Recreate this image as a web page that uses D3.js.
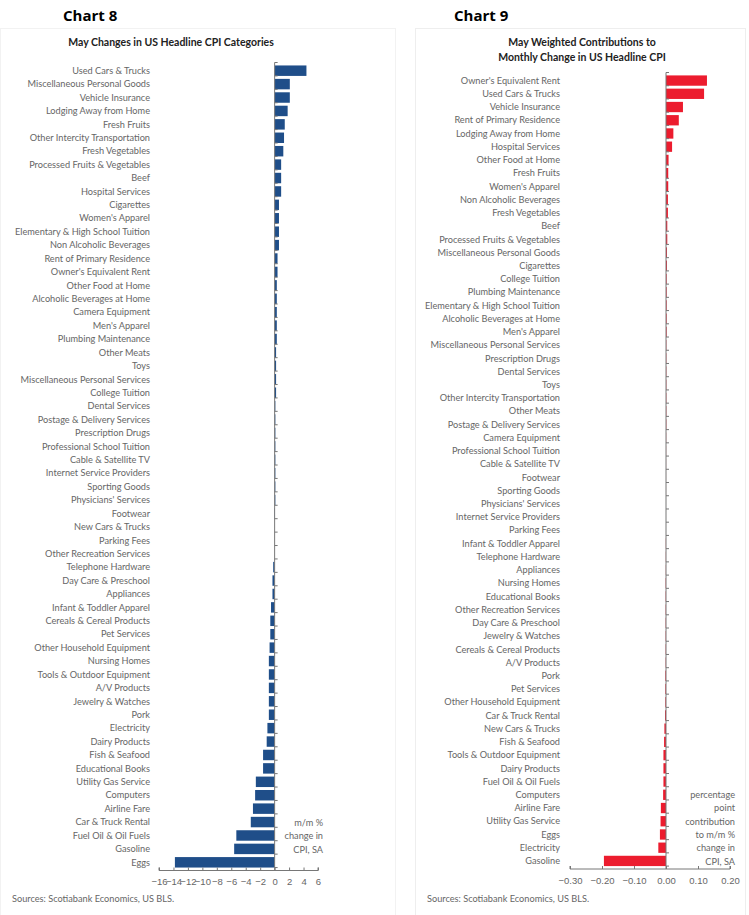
<!DOCTYPE html>
<html><head><meta charset="utf-8">
<script src="https://cdn.jsdelivr.net/npm/d3@7"></script>
<style>
body{margin:0;background:#fff;font-family:Lato,"Open Sans",sans-serif;}
.lbl{fill:#666;font-size:9.2px;}
.tick text{fill:#666;font-size:9.5px;}
</style></head><body>
<div id="chart"></div>
<script>
// Chart 8: m/m % change
const cats8 = ["Used Cars & Trucks","Miscellaneous Personal Goods","Vehicle Insurance","Lodging Away from Home","Fresh Fruits","Other Intercity Transportation","Fresh Vegetables","Processed Fruits & Vegetables","Beef","Hospital Services","Cigarettes","Women's Apparel","Elementary & High School Tuition","Non Alcoholic Beverages","Rent of Primary Residence","Owner's Equivalent Rent","Other Food at Home","Alcoholic Beverages at Home","Camera Equipment","Men's Apparel","Plumbing Maintenance","Other Meats","Toys","Miscellaneous Personal Services","College Tuition","Dental Services","Postage & Delivery Services","Prescription Drugs","Professional School Tuition","Cable & Satellite TV","Internet Service Providers","Sporting Goods","Physicians' Services","Footwear","New Cars & Trucks","Parking Fees","Other Recreation Services","Telephone Hardware","Day Care & Preschool","Appliances","Infant & Toddler Apparel","Cereals & Cereal Products","Pet Services","Other Household Equipment","Nursing Homes","Tools & Outdoor Equipment","A/V Products","Jewelry & Watches","Pork","Electricity","Dairy Products","Fish & Seafood","Educational Books","Utility Gas Service","Computers","Airline Fare","Car & Truck Rental","Fuel Oil & Oil Fuels","Gasoline","Eggs"];
const vals8 = [4.4,2.1,2.1,1.8,1.4,1.3,1.2,0.9,0.9,0.9,0.6,0.6,0.6,0.6,0.4,0.4,0.3,0.3,0.3,0.3,0.3,0.2,0.2,0.2,0.2,0.1,0.1,0.1,0.1,0.1,0.1,0.1,0.1,0.05,0,0,0,-0.2,-0.3,-0.3,-0.5,-0.6,-0.6,-0.7,-0.8,-0.8,-0.8,-0.8,-0.8,-1.0,-1.1,-1.6,-1.6,-2.6,-2.7,-3.0,-3.3,-5.3,-5.6,-13.8];
const ticks8 = [-16,-14,-12,-10,-8,-6,-4,-2,0,2,4,6];

// Chart 9: percentage point contribution
const cats9 = ["Owner's Equivalent Rent","Used Cars & Trucks","Vehicle Insurance","Rent of Primary Residence","Lodging Away from Home","Hospital Services","Other Food at Home","Fresh Fruits","Women's Apparel","Non Alcoholic Beverages","Fresh Vegetables","Beef","Processed Fruits & Vegetables","Miscellaneous Personal Goods","Cigarettes","College Tuition","Plumbing Maintenance","Elementary & High School Tuition","Alcoholic Beverages at Home","Men's Apparel","Miscellaneous Personal Services","Prescription Drugs","Dental Services","Toys","Other Intercity Transportation","Other Meats","Postage & Delivery Services","Camera Equipment","Professional School Tuition","Cable & Satellite TV","Footwear","Sporting Goods","Physicians' Services","Internet Service Providers","Parking Fees","Infant & Toddler Apparel","Telephone Hardware","Appliances","Nursing Homes","Educational Books","Other Recreation Services","Day Care & Preschool","Jewelry & Watches","Cereals & Cereal Products","A/V Products","Pork","Pet Services","Other Household Equipment","Car & Truck Rental","New Cars & Trucks","Fish & Seafood","Tools & Outdoor Equipment","Dairy Products","Fuel Oil & Oil Fuels","Computers","Airline Fare","Utility Gas Service","Eggs","Electricity","Gasoline"];
const vals9 = [0.128,0.119,0.053,0.04,0.023,0.019,0.008,0.007,0.007,0.006,0.006,0.004,0.004,0.003,0.003,0.002,0.002,0.002,0.002,0.002,0.001,0.001,0.001,0.001,0.001,0.001,0.001,0.0005,0.0003,0.0002,0.0001,0.0001,0,0,0,-0.0005,-0.0005,-0.0005,-0.001,-0.001,-0.001,-0.001,-0.001,-0.001,-0.001,-0.002,-0.002,-0.002,-0.003,-0.005,-0.006,-0.008,-0.008,-0.008,-0.009,-0.016,-0.017,-0.019,-0.024,-0.194];
const ticks9 = [-0.3,-0.2,-0.1,0,0.1,0.2];

const svg = d3.select("#chart").append("svg").attr("width",749).attr("height",915);

// faint panel borders
svg.append("rect").attr("x",415.5).attr("y",28.5).attr("width",330).attr("height",890)
  .attr("fill","none").attr("stroke","#eee");
svg.append("rect").attr("x",0.5).attr("y",28.5).attr("width",395).attr("height",890)
  .attr("fill","none").attr("stroke","#f2f2f2");

function drawChart(o) {
  const g = svg.append("g");
  g.append("text").attr("x",o.headX).attr("y",21).text(o.head)
    .style("font-family","'Open Sans',sans-serif").style("font-weight","700").style("font-size","15px").attr("fill","#000");
  o.title.forEach((t,i) => g.append("text").attr("x",o.titleX).attr("y",o.titleY+i*15).attr("text-anchor","middle")
    .text(t).style("font-weight","700").style("font-size","10.5px").attr("fill","#222"));

  const x = d3.scaleLinear().domain(o.domain).range(o.xr);
  const y = d3.scaleBand().domain(o.cats).range(o.yr).padding(0.22);
  const step = y.step();

  g.selectAll("rect.bar").data(o.cats).join("rect").attr("class","bar")
    .attr("x",(d,i)=>x(Math.min(0,o.vals[i])))
    .attr("width",(d,i)=>Math.abs(x(o.vals[i])-x(0)))
    .attr("y",d=>y(d)).attr("height",y.bandwidth()).attr("fill",o.color);

  g.selectAll("text.lbl").data(o.cats).join("text").attr("class","lbl")
    .attr("x",o.labelX).attr("y",d=>y(d)+y.bandwidth()/2).attr("dy","0.35em")
    .attr("text-anchor","end").text(d=>d);

  // zero line with category ticks
  const x0 = x(0);
  g.append("line").attr("x1",x0).attr("x2",x0).attr("y1",o.yr[0]).attr("y2",o.yr[1]).attr("stroke","#777");
  g.selectAll("line.ct").data(d3.range(o.cats.length+1)).join("line").attr("class","ct")
    .attr("x1",x0).attr("x2",x0+3).attr("y1",i=>o.yr[0]+i*step).attr("y2",i=>o.yr[0]+i*step).attr("stroke","#777");

  const ax = g.append("g").attr("transform",`translate(0,${o.yr[1]})`)
    .call(d3.axisBottom(x).tickValues(o.ticks).tickSize(-3).tickPadding(8).tickFormat(o.fmt));
  ax.select(".domain").attr("stroke","#777").attr("d",`M${o.xr[0]},-3V0H${o.xr[1]}V-3`);
  ax.selectAll(".tick line").attr("stroke","#777");

  o.note.forEach((t,i)=>g.append("text").attr("x",o.noteX).attr("y",o.noteY+i*13.3).attr("text-anchor","end")
    .text(t).attr("class","lbl"));
  g.append("text").attr("x",o.srcX).attr("y",902).text("Sources: Scotiabank Economics, US BLS.")
    .attr("class","lbl").attr("fill","#777");
}

drawChart({head:"Chart 8",headX:63,title:["May Changes in US Headline CPI Categories"],titleX:171,titleY:46,
  cats:cats8,vals:vals8,ticks:ticks8,domain:[-16,6],xr:[159,318],yr:[62.5,870.5],color:"#1f4e89",
  labelX:150,fmt:d3.format("d"),note:["m/m %","change in","CPI, SA"],noteX:323,noteY:826,srcX:12});

drawChart({head:"Chart 9",headX:454,title:["May Weighted Contributions to","Monthly Change in US Headline CPI"],titleX:582,titleY:46,
  cats:cats9,vals:vals9,ticks:ticks9,domain:[-0.3,0.2],xr:[570,730],yr:[72.5,869],color:"#ec1c2e",
  labelX:560,fmt:d3.format(".2f"),note:["percentage","point","contribution","to m/m %","change in","CPI, SA"],noteX:735,noteY:798,srcX:427});
</script>
</body></html>
